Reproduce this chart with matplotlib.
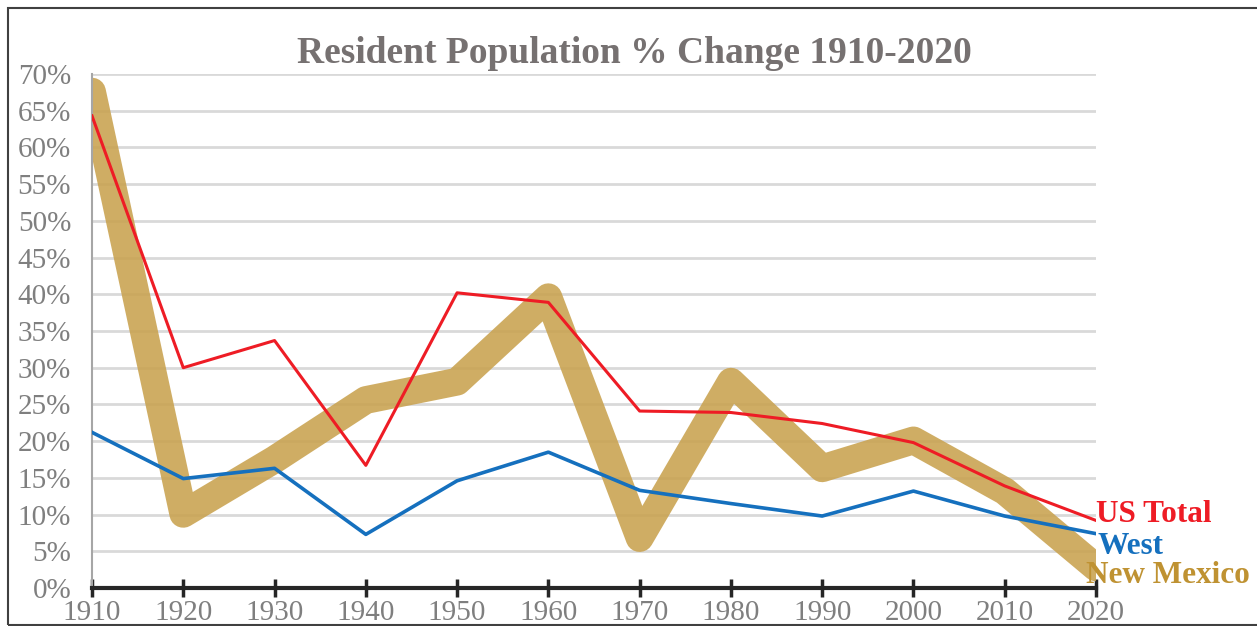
import matplotlib.pyplot as plt
from matplotlib.patches import Rectangle
from matplotlib.ticker import FuncFormatter, MultipleLocator

# Data (percent change per decade)
years = [1910, 1920, 1930, 1940, 1950, 1960, 1970, 1980, 1990, 2000, 2010, 2020]
new_mexico = [67.6, 10.1, 17.5, 25.6, 28.1, 39.6, 6.8, 28.1, 16.3, 20.1, 13.2, 2.8]
us_total = [64.3, 30.0, 33.7, 16.7, 40.2, 38.9, 24.1, 23.9, 22.4, 19.8, 13.9, 9.2]
west = [21.2, 14.9, 16.3, 7.3, 14.6, 18.5, 13.3, 11.5, 9.8, 13.2, 9.8, 7.4]

title = "Resident Population % Change 1910-2020"

GOLD = "#C9A24F"
GOLD_TXT = "#BF9232"
RED = "#EE1C25"
BLUE = "#1570BE"
GRAY = "#7F7F7F"

plt.rcParams['font.family'] = ['Liberation Serif', 'DejaVu Serif']

fig = plt.figure(figsize=(12.57, 6.26), dpi=100)
ax = fig.add_axes([92 / 1257, 38 / 626, 1004 / 1257, 514 / 626])

# outer frame
fig.patches.append(Rectangle((8 / 1257, 1 / 626), 1.1, 617 / 626, transform=fig.transFigure,
                             fill=False, edgecolor="#404040", linewidth=1.5))

ax.plot(years, new_mexico, color=GOLD, alpha=0.88, linewidth=20,
        solid_joinstyle='round', solid_capstyle='round', zorder=2)
ax.plot(years, us_total, color=RED, linewidth=2.2, zorder=3)
ax.plot(years, west, color=BLUE, linewidth=2.6, zorder=3)

ax.set_xlim(1910, 2020)
ax.set_ylim(0, 70)
ax.set_xticks(years)
ax.yaxis.set_major_locator(MultipleLocator(5))
ax.yaxis.set_major_formatter(FuncFormatter(lambda v, p: "{:.0f}%".format(v)))

ax.grid(axis='y', color="#D9D9D9", linewidth=2, zorder=0)
ax.set_axisbelow(True)
for s in ['top', 'right']:
    ax.spines[s].set_visible(False)
ax.spines['left'].set_color("#A6A6A6")
ax.spines['left'].set_linewidth(1.5)
ax.spines['bottom'].set_color("#262626")
ax.spines['bottom'].set_linewidth(3)
ax.spines['bottom'].set_zorder(4)

ax.tick_params(axis='y', length=0, pad=15, labelsize=21, labelcolor=GRAY)
ax.tick_params(axis='x', direction='inout', length=13, width=2.5, color="#262626",
               pad=2, labelsize=21, labelcolor=GRAY)

fig.text(0.505, 0.915, title, ha='center', va='center', fontsize=27,
         fontweight='bold', color="#767171")

# end-of-line labels
ax.annotate("US Total", (years[-1], us_total[-1]), xytext=(0, 4), textcoords='offset points',
            ha='left', va='center', fontsize=22.5, fontweight='bold', color=RED,
            annotation_clip=False)
ax.annotate("West", (years[-1], west[-1]), xytext=(1, -9), textcoords='offset points',
            ha='left', va='center', fontsize=22.5, fontweight='bold', color=BLUE,
            annotation_clip=False)
ax.annotate("New Mexico", (years[-1], new_mexico[-1]), xytext=(-7, -6), textcoords='offset points',
            ha='left', va='center', fontsize=22.5, fontweight='bold', color=GOLD_TXT,
            annotation_clip=False)

fig.savefig("out.png", dpi=100)
